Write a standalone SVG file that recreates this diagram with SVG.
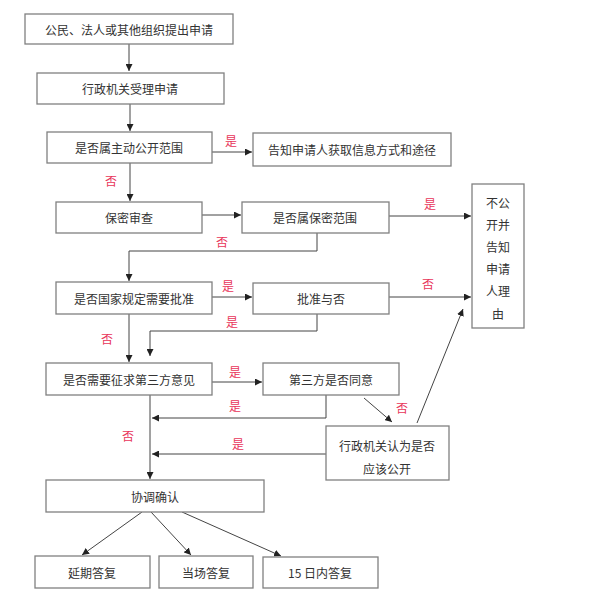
<svg xmlns="http://www.w3.org/2000/svg" width="592" height="600" viewBox="0 0 592 600">
<style>
.b{fill:#fff;stroke:#808080;stroke-width:1.3}
.t{font-family:"Noto Sans CJK SC","Liberation Sans",sans-serif;font-size:12px;fill:#333;text-anchor:middle;dominant-baseline:central}
.r{font-family:"Noto Sans CJK SC","Liberation Sans",sans-serif;font-size:12px;fill:#e8355a;text-anchor:middle;dominant-baseline:central}
.c{fill:none;stroke:#444;stroke-width:1;marker-end:url(#a)}
.l{fill:none;stroke:#444;stroke-width:1}
</style>
<defs>
<marker id="a" viewBox="0 0 10 10" refX="10" refY="5" markerWidth="7" markerHeight="7" markerUnits="userSpaceOnUse" orient="auto"><path d="M0,0L10,5L0,10z" fill="#222"/></marker>
</defs>
<rect width="592" height="600" fill="#fff"/>
<g id="connectors">
<path class="c" d="M129,44V71"/>
<path class="c" d="M130,104V131"/>
<path class="c" d="M212,152H252"/>
<path class="c" d="M130,163V201"/>
<path class="c" d="M202,215H241"/>
<path class="c" d="M389,216H471"/>
<path class="l" d="M317,233V251H129"/>
<path class="c" d="M129,251V281"/>
<path class="c" d="M212,297H252"/>
<path class="c" d="M389,297H471"/>
<path class="l" d="M317,314V331H150"/>
<path class="c" d="M150,331V356"/>
<path class="c" d="M129,314V362"/>
<path class="c" d="M212,382H262"/>
<path class="l" d="M326,395V418"/>
<path class="c" d="M326,418H152"/>
<path class="c" d="M364,398L392,422"/>
<path class="c" d="M417,423L463,309"/>
<path class="c" d="M326,454H152"/>
<path class="c" d="M150,395V479"/>
<path class="c" d="M142,512L82,555"/>
<path class="c" d="M151,512L191,555"/>
<path class="c" d="M182,512L281,556"/>
</g>
<g id="labels">
<text class="r" x="231" y="140">是</text>
<text class="r" x="111" y="180">否</text>
<text class="r" x="430" y="203">是</text>
<text class="r" x="222" y="241">否</text>
<text class="r" x="228" y="285">是</text>
<text class="r" x="428" y="283">否</text>
<text class="r" x="232" y="321">是</text>
<text class="r" x="107" y="338">否</text>
<text class="r" x="235" y="371">是</text>
<text class="r" x="235" y="405">是</text>
<text class="r" x="402" y="407">否</text>
<text class="r" x="238" y="443">是</text>
<text class="r" x="128" y="435">否</text>
</g>
<g id="n1"><rect class="b" x="25" y="14" width="208" height="30"/><text class="t" x="129" y="29">公民、法人或其他组织提出申请</text></g>
<g id="n2"><rect class="b" x="37" y="73" width="187" height="31"/><text class="t" x="130" y="88.5">行政机关受理申请</text></g>
<g id="n3"><rect class="b" x="47" y="132" width="165" height="31"/><text class="t" x="129" y="147.5">是否属主动公开范围</text></g>
<g id="n4"><rect class="b" x="253" y="133" width="198" height="33"/><text class="t" x="352" y="149.5">告知申请人获取信息方式和途径</text></g>
<g id="n5"><rect class="b" x="56" y="202" width="146" height="31"/><text class="t" x="129" y="217.5">保密审查</text></g>
<g id="n6"><rect class="b" x="242" y="202" width="147" height="31"/><text class="t" x="315" y="217.5">是否属保密范围</text></g>
<g id="n7"><rect class="b" x="472" y="184" width="52" height="144"/>
<text class="t" x="498" y="202">不公</text><text class="t" x="498" y="224">开并</text><text class="t" x="498" y="246">告知</text><text class="t" x="498" y="268">申请</text><text class="t" x="498" y="290">人理</text><text class="t" x="498" y="313">由</text></g>
<g id="n8"><rect class="b" x="56" y="282" width="156" height="32"/><text class="t" x="134" y="298">是否国家规定需要批准</text></g>
<g id="n9"><rect class="b" x="253" y="283" width="136" height="31"/><text class="t" x="321" y="298.5">批准与否</text></g>
<g id="n10"><rect class="b" x="46" y="363" width="166" height="32"/><text class="t" x="129" y="379">是否需要征求第三方意见</text></g>
<g id="n11"><rect class="b" x="263" y="363" width="136" height="32"/><text class="t" x="331" y="379">第三方是否同意</text></g>
<g id="n12"><rect class="b" x="326" y="426" width="123" height="54"/><text class="t" x="387" y="445">行政机关认为是否</text><text class="t" x="387" y="468">应该公开</text></g>
<g id="n13"><rect class="b" x="46" y="480" width="218" height="32"/><text class="t" x="155" y="496">协调确认</text></g>
<g id="n14"><rect class="b" x="35" y="556" width="115" height="32"/><text class="t" x="92" y="572">延期答复</text></g>
<g id="n15"><rect class="b" x="159" y="556" width="94" height="32"/><text class="t" x="206" y="572">当场答复</text></g>
<g id="n16"><rect class="b" x="263" y="557" width="115" height="31"/><text class="t" x="320" y="572.5">15 日内答复</text></g>
</svg>
